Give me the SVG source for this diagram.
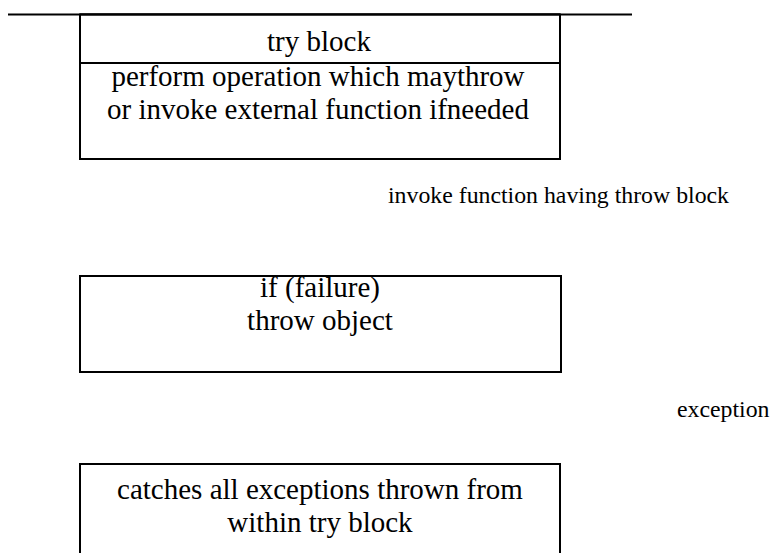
<svg xmlns="http://www.w3.org/2000/svg" width="772" height="553" viewBox="0 0 772 553">
<style>
.box{fill:#fff;stroke:#000;stroke-width:2}
.ln{stroke:#000;stroke-width:2;fill:none}
.t{font-family:"Liberation Serif","Times New Roman",serif;font-size:29px;fill:#000;text-anchor:middle}
.lbl{font-family:"Liberation Serif","Times New Roman",serif;font-size:23.8px;fill:#000}
</style>
<rect width="772" height="553" fill="#fff"/>
<g id="connectors">
<line class="ln" x1="8" y1="14.5" x2="632" y2="14.5"/>
<text class="lbl" x="388" y="203">invoke function having throw block</text>
<text class="lbl" x="677" y="417" font-size="23px">exception</text>
</g>
<g id="try-block">
<rect class="box" x="80" y="14.5" width="480" height="144.5"/>
<line class="ln" x1="80" y1="14.5" x2="560" y2="14.5" stroke-width="3"/>
<line class="ln" x1="80" y1="63" x2="560" y2="63"/>
<text class="t" x="319" y="51">try block</text>
<text class="t" x="318" y="86">perform operation which maythrow</text>
<text class="t" x="318" y="119">or invoke external function ifneeded</text>
</g>
<g id="throw-block">
<rect class="box" x="80" y="276" width="481" height="96"/>
<text class="t" x="320" y="297">if (failure)</text>
<text class="t" x="320" y="330">throw object</text>
</g>
<g id="catch-block">
<rect class="box" x="80" y="464" width="480" height="100"/>
<text class="t" x="320" y="499">catches all exceptions thrown from</text>
<text class="t" x="320" y="532">within try block</text>
</g>
</svg>
